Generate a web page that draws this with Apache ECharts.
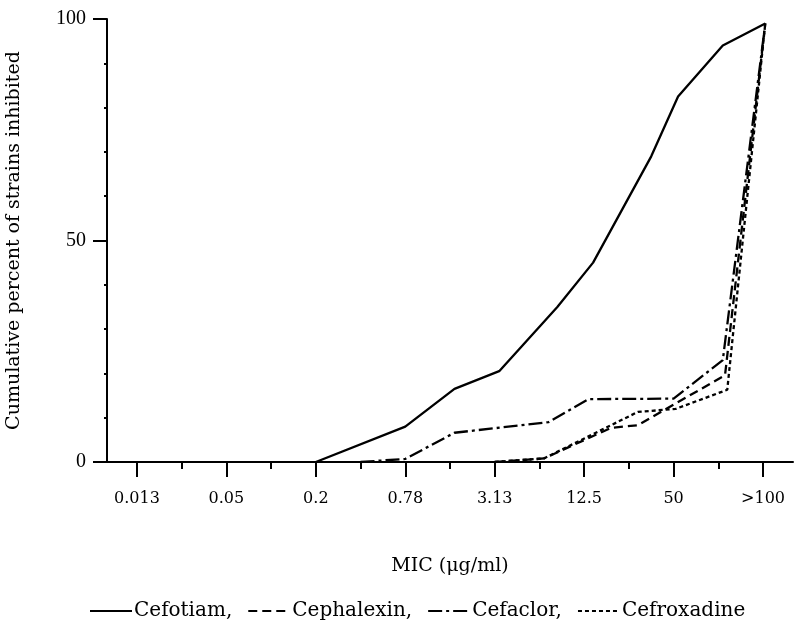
<!DOCTYPE html>
<html>
<head>
<meta charset="utf-8">
<script src="https://cdn.jsdelivr.net/npm/echarts@6/dist/echarts.min.js"></script>
<style>
html,body{margin:0;padding:0;background:#fff;}
#chart{width:794px;height:631px;}
</style>
</head>
<body>
<div id="chart"></div>
<script>
// Two-fold dilution steps (index 0..14) and the labelled ones
var dilutionSteps = ['0.013','0.025','0.05','0.1','0.2','0.39','0.78','1.56','3.13','6.25','12.5','25','50','100','>100'];
var labelledSteps = [0, 2, 4, 6, 8, 10, 12, 14];
var minorSteps = [1, 3, 5, 7, 9, 11, 13];

// [dilution step index, cumulative percent]
var cefotiam = [[4,0],[6,8],[7.1,16.5],[8.1,20.5],[9.4,35],[10.2,45],[11.5,69],[12.1,82.5],[13.1,94],[14.05,99]];
var cephalexin = [[8,0],[9.1,0.8],[10.6,7.7],[11.2,8.3],[13.15,19.6],[14.05,99]];
var cefaclor = [[5,0],[6,0.7],[7.1,6.6],[9.2,9],[10.1,14.2],[12,14.3],[13.1,23],[14.05,99]];
var cefroxadine = [[8,0],[9.1,0.8],[11.2,11.3],[12.05,12],[13.2,16.3],[14.05,99]];

var seriesNames = ['Cefotiam', 'Cephalexin', 'Cefaclor', 'Cefroxadine'];

var serif = '"Liberation Serif", "Times New Roman", serif';
var wide = '"DejaVu Serif", serif';
var chart = echarts.init(document.getElementById('chart'));

function mk(name, data, dash) {
  return {
    name: name, type: 'line', data: data, symbol: 'none',
    xAxisIndex: 0, yAxisIndex: 0,
    lineStyle: { color: '#000', width: 2.3, type: dash },
    itemStyle: { color: '#000' },
    silent: true, animation: false
  };
}

chart.setOption({
  animation: false,
  backgroundColor: '#fff',
  grid: { left: 107, right: 1, top: 19, bottom: 169, containLabel: false, outerBoundsMode: 'none' },
  xAxis: [{
    type: 'value', min: -0.67, max: 14.67,
    axisLine: { show: true, onZero: false, lineStyle: { color: '#000', width: 2 } },
    axisTick: { show: true, customValues: labelledSteps, length: 15, lineStyle: { color: '#000', width: 2 } },
    axisLabel: { show: true, customValues: labelledSteps, margin: 29, color: '#000', fontFamily: wide, fontSize: 16,
      formatter: function (v) { return dilutionSteps[Math.round(v)]; } },
    splitLine: { show: false },
    name: 'MIC (μg/ml)', nameLocation: 'middle', nameGap: 95,
    nameTextStyle: { color: '#000', fontFamily: wide, fontSize: 19 }
  }, {
    type: 'value', min: -0.67, max: 14.67, position: 'bottom', gridIndex: 0,
    axisLine: { show: false, onZero: false },
    axisTick: { show: true, customValues: minorSteps, length: 7, lineStyle: { color: '#000', width: 2 } },
    axisLabel: { show: false },
    splitLine: { show: false }
  }],
  yAxis: {
    type: 'value', min: 0, max: 100, interval: 50,
    axisLine: { show: true, onZero: false, lineStyle: { color: '#000', width: 2 } },
    axisTick: { show: true, length: 14, lineStyle: { color: '#000', width: 2 } },
    minorTick: { show: true, splitNumber: 5, length: 3, lineStyle: { color: '#000', width: 2 } },
    axisLabel: { margin: 21, color: '#000', fontFamily: serif, fontSize: 20 },
    splitLine: { show: false },
    name: 'Cumulative percent of strains inhibited', nameLocation: 'middle', nameGap: 83,
    nameTextStyle: { color: '#000', fontFamily: wide, fontSize: 19 }
  },
  legend: {
    data: seriesNames, left: 84, top: 596, itemWidth: 42, itemHeight: 12, itemGap: 15,
    itemStyle: { opacity: 0, color: 'rgba(0,0,0,0)', borderWidth: 0 },
    textStyle: { color: '#000', fontFamily: wide, fontSize: 20, padding: [0, 0, 0, -3] },
    formatter: function (n) { return n === 'Cefroxadine' ? n : n + ','; },
    selectedMode: false
  },
  series: [
    mk('Cefotiam', cefotiam, 'solid'),
    mk('Cephalexin', cephalexin, [9, 5]),
    mk('Cefaclor', cefaclor, [14, 4, 3, 4]),
    mk('Cefroxadine', cefroxadine, [4, 3])
  ]
});
</script>
</body>
</html>
